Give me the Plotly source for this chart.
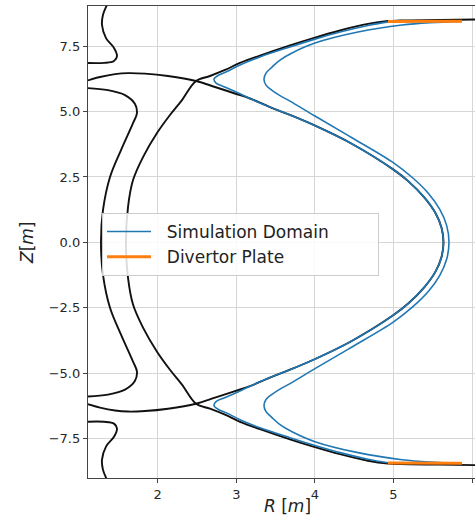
import plotly.graph_objects as go

# ---- flux-surface contours, R [m] / Z [m] ----
# main separatrix: through both X-points, around the outboard midplane
sep_main_R = [1.088, 1.266, 1.457, 1.622, 1.838, 2.131, 2.487, 2.729, 2.983, 3.174, 3.428, 3.683, 3.996, 4.463, 5.000, 5.187, 5.394, 5.534, 5.612, 5.636,
              5.612, 5.534, 5.394, 5.187, 5.000, 4.463, 3.996, 3.683, 3.428, 3.174, 2.983, 2.729, 2.487, 2.131, 1.838, 1.622, 1.457, 1.266, 1.088]
sep_main_Z = [6.17, 6.32, 6.43, 6.47, 6.45, 6.36, 6.17, 5.94, 5.69, 5.50, 5.17, 4.87, 4.47, 3.78, 2.78, 2.34, 1.71, 1.12, 0.55, 0.0,
              -0.55, -1.12, -1.71, -2.34, -2.78, -3.78, -4.47, -4.87, -5.17, -5.50, -5.69, -5.94, -6.17, -6.36, -6.45, -6.47, -6.43, -6.32, -6.17]

# outer divertor legs joined through the inboard side
sep_legs_R = [6.075, 5.591, 5.083, 4.930, 4.675, 4.319, 4.001, 3.683, 3.301, 3.047, 2.856, 2.665, 2.487, 2.309, 2.156, 1.991, 1.813, 1.686, 1.622, 1.596,
              1.622, 1.686, 1.813, 1.991, 2.156, 2.309, 2.487, 2.665, 2.856, 3.047, 3.301, 3.683, 4.001, 4.319, 4.675, 4.930, 5.083, 5.591, 6.075]
sep_legs_Z = [8.52, 8.50, 8.48, 8.46, 8.35, 8.10, 7.83, 7.53, 7.14, 6.86, 6.59, 6.36, 6.17, 5.44, 4.87, 4.18, 3.26, 2.38, 1.35, 0.0,
              -1.35, -2.38, -3.26, -4.18, -4.87, -5.44, -6.17, -6.36, -6.59, -6.86, -7.14, -7.53, -7.83, -8.10, -8.35, -8.46, -8.48, -8.50, -8.52]

inner_R = [1.088, 1.367, 1.584, 1.711, 1.736, 1.686, 1.533, 1.393, 1.304, 1.278,
           1.304, 1.393, 1.533, 1.686, 1.736, 1.711, 1.584, 1.367, 1.088]
inner_Z = [5.90, 5.82, 5.63, 5.29, 4.94, 4.56, 3.53, 2.50, 1.24, 0.0,
           -1.24, -2.50, -3.53, -4.56, -4.94, -5.29, -5.63, -5.82, -5.90]

wiggle_top_R = [1.355, 1.304, 1.291, 1.342, 1.444, 1.482, 1.444, 1.317, 1.088]
wiggle_top_Z = [9.08, 8.70, 8.31, 7.81, 7.43, 7.12, 6.93, 6.86, 6.86]
wiggle_bot_R = [1.355, 1.304, 1.291, 1.342, 1.444, 1.482, 1.444, 1.317, 1.088]
wiggle_bot_Z = [-9.08, -8.70, -8.31, -7.81, -7.43, -7.12, -6.93, -6.86, -6.86]

# ---- simulation domain boundaries ----
dom_in_R = [4.930, 4.675, 4.319, 4.001, 3.683, 3.301, 3.047, 2.881, 2.767, 2.716, 2.742, 2.843, 2.983, 3.174, 3.428, 3.683,
            3.996, 4.463, 5.000, 5.187, 5.394, 5.534, 5.612, 5.636,
            5.612, 5.534, 5.394, 5.187, 5.000, 4.463, 3.996,
            3.683, 3.428, 3.174, 2.983, 2.843, 2.742, 2.716, 2.767, 2.881, 3.047, 3.301, 3.683, 4.001, 4.319, 4.675, 4.930]
dom_in_Z = [8.43, 8.29, 8.04, 7.77, 7.47, 7.09, 6.78, 6.53, 6.38, 6.24, 6.09, 5.95, 5.77, 5.50, 5.17, 4.87,
            4.47, 3.78, 2.78, 2.34, 1.71, 1.12, 0.55, 0.0,
            -0.55, -1.12, -1.71, -2.34, -2.78, -3.78, -4.47,
            -4.87, -5.17, -5.50, -5.77, -5.95, -6.09, -6.24, -6.38, -6.53, -6.78, -7.09, -7.47, -7.77, -8.04, -8.29, -8.43]

dom_out_R = [5.871, 5.464, 5.108, 4.548, 4.001, 3.709, 3.556, 3.454, 3.378, 3.352, 3.378, 3.454, 3.556, 3.683,
             4.001, 4.460, 4.997, 5.247, 5.445, 5.589, 5.677, 5.706,
             5.677, 5.589, 5.445, 5.247, 4.997, 4.460, 4.001,
             3.683, 3.556, 3.454, 3.378, 3.352, 3.378, 3.454, 3.556, 3.709, 4.001, 4.548, 5.108, 5.464, 5.871]
dom_out_Z = [8.45, 8.40, 8.31, 8.04, 7.62, 7.24, 6.97, 6.70, 6.47, 6.24, 6.01, 5.81, 5.61, 5.40,
             4.83, 4.02, 3.05, 2.46, 1.87, 1.26, 0.64, 0.0,
             -0.64, -1.26, -1.87, -2.46, -3.05, -4.02, -4.83,
             -5.40, -5.61, -5.81, -6.01, -6.24, -6.47, -6.70, -6.97, -7.24, -7.62, -8.04, -8.31, -8.40, -8.45]

# ---- divertor plates ----
plate_top_R = [4.930, 5.871]
plate_top_Z = [8.44, 8.45]
plate_bot_R = [4.930, 5.871]
plate_bot_Z = [-8.44, -8.45]

x_ticks = [2, 3, 4, 5, 6]
y_ticks = [-7.5, -5.0, -2.5, 0.0, 2.5, 5.0, 7.5]

BLUE = "#1f77b4"
ORANGE = "#ff7f0e"
BLACK = "#111111"
PAD = "\u00a0\u00a0"  # gap between legend key and label

fig = go.Figure()

for R, Z in [(sep_main_R, sep_main_Z), (sep_legs_R, sep_legs_Z), (inner_R, inner_Z),
             (wiggle_top_R, wiggle_top_Z), (wiggle_bot_R, wiggle_bot_Z)]:
    fig.add_trace(go.Scatter(x=R, y=Z, mode="lines", showlegend=False, hoverinfo="skip",
                             line=dict(color=BLACK, width=1.9, shape="spline", smoothing=1.0)))

blue_line = dict(color=BLUE, width=1.6, shape="spline", smoothing=1.0)
fig.add_trace(go.Scatter(x=dom_in_R, y=dom_in_Z, mode="lines", name=PAD + "Simulation Domain",
                         legendgroup="dom", line=blue_line))
fig.add_trace(go.Scatter(x=dom_out_R, y=dom_out_Z, mode="lines", name=PAD + "Simulation Domain",
                         legendgroup="dom", showlegend=False, line=blue_line))
fig.add_trace(go.Scatter(x=plate_top_R, y=plate_top_Z, mode="lines", name=PAD + "Divertor Plate",
                         legendgroup="plate", line=dict(color=ORANGE, width=3)))
fig.add_trace(go.Scatter(x=plate_bot_R, y=plate_bot_Z, mode="lines", name=PAD + "Divertor Plate",
                         legendgroup="plate", showlegend=False, line=dict(color=ORANGE, width=3)))

L, T, B = 88, 6, 38
W, H = 475, 516
pw, ph = W - L, H - T - B

def px(xp):
    return (xp - L) / pw

def py(yp):
    return (H - B - yp) / ph

axis_common = dict(showgrid=True, gridcolor="#d6d6d6", gridwidth=1.2, zeroline=False,
                   showline=True, linecolor="#444444", linewidth=1.3,
                   ticks="outside", ticklen=4, tickwidth=1.1, tickcolor="#444444",
                   tickfont=dict(family="DejaVu Sans", size=13, color="#262626"))

fig.update_layout(
    width=W, height=H,
    margin=dict(l=L, r=0, t=T, b=B, pad=0),
    paper_bgcolor="white", plot_bgcolor="white",
    showlegend=True,
    legend=dict(x=px(102), y=py(213), xanchor="left", yanchor="top",
                orientation="h", entrywidth=217, entrywidthmode="pixels",
                bgcolor="rgba(255,255,255,0.85)", bordercolor="#cccccc", borderwidth=1,
                font=dict(family="DejaVu Sans", size=17, color="#222222"),
                itemwidth=44, tracegroupgap=0),
    xaxis=dict(range=[1.113, 6.037], tickvals=x_ticks, ticktext=[str(v) for v in x_ticks],
               mirror=True, **axis_common),
    yaxis=dict(range=[-9.01, 9.036], tickvals=y_ticks,
               ticktext=[f"{v:.1f}".replace("-", "\u2212") for v in y_ticks],
               **axis_common),
    annotations=[
        dict(text="<i>R</i> [<i>m</i>]", x=px(287), y=py(506), xref="paper", yref="paper",
             showarrow=False, xanchor="center", yanchor="middle",
             font=dict(family="DejaVu Sans", size=17, color="#222222")),
        dict(text="<i>Z</i>[<i>m</i>]", x=px(27), y=py(243), xref="paper", yref="paper",
             showarrow=False, xanchor="center", yanchor="middle", textangle=-90,
             font=dict(family="DejaVu Sans", size=17, color="#222222")),
    ],
)

fig.write_html("out.html")
